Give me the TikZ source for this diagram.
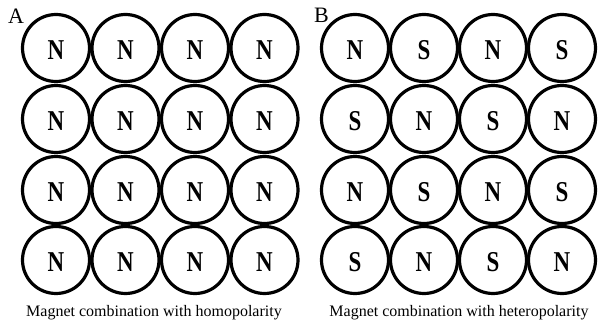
\documentclass[tikz,border=0pt]{standalone}
\usepackage{fontspec}
\setmainfont{Liberation Serif}
\newcommand{\polelabel}[1]{\scalebox{1}[1.25]{#1}}
\begin{document}
\begin{tikzpicture}[x=1pt,y=-1pt,
  magnet/.style={circle,draw=black,line width=3.2pt,minimum size=67pt,inner sep=0pt},
  pole/.style={font=\fontsize{23}{23}\selectfont\bfseries,inner sep=0pt,yshift=-2.5pt},
  panel/.style={font=\fontsize{22}{22}\selectfont,anchor=base west,inner sep=0pt},
  caption/.style={font=\fontsize{16}{16}\selectfont,anchor=base,inner sep=0pt}]
\useasboundingbox (0,0) rectangle (606,323);
\def\lx{{56,125.5,195,264.5}}
\def\rx{{355,424,493,562}}
\def\ry{{48,119,190,260}}
\foreach \c in {0,1,2,3}{
  \foreach \r in {0,1,2,3}{
    \pgfmathsetmacro{\xx}{\lx[\c]}
    \pgfmathsetmacro{\yy}{\ry[\r]}
    \node[magnet] (L\r\c) at (\xx,\yy) {};
    \node[pole] (LP\r\c) at (L\r\c.center) {\polelabel{N}};
  }
}
\foreach \c in {0,1,2,3}{
  \foreach \r in {0,1,2,3}{
    \pgfmathsetmacro{\xx}{\rx[\c]}
    \pgfmathsetmacro{\yy}{\ry[\r]}
    \pgfmathtruncatemacro{\odd}{mod(\r+\c,2)}
    \node[magnet] (R\r\c) at (\xx,\yy) {};
    \ifnum\odd=0
      \node[pole] (RP\r\c) at (R\r\c.center) {\polelabel{N}};
    \else
      \node[pole] (RP\r\c) at (R\r\c.center) {\polelabel{S}};
    \fi
  }
}
\node[panel] (A) at (8,24) {A};
\node[panel] (B) at (314,23) {B};
\node[caption] (capL) at (154,317) {Magnet combination with homopolarity};
\node[caption] (capR) at (459,317) {Magnet combination with heteropolarity};
\end{tikzpicture}
\end{document}
